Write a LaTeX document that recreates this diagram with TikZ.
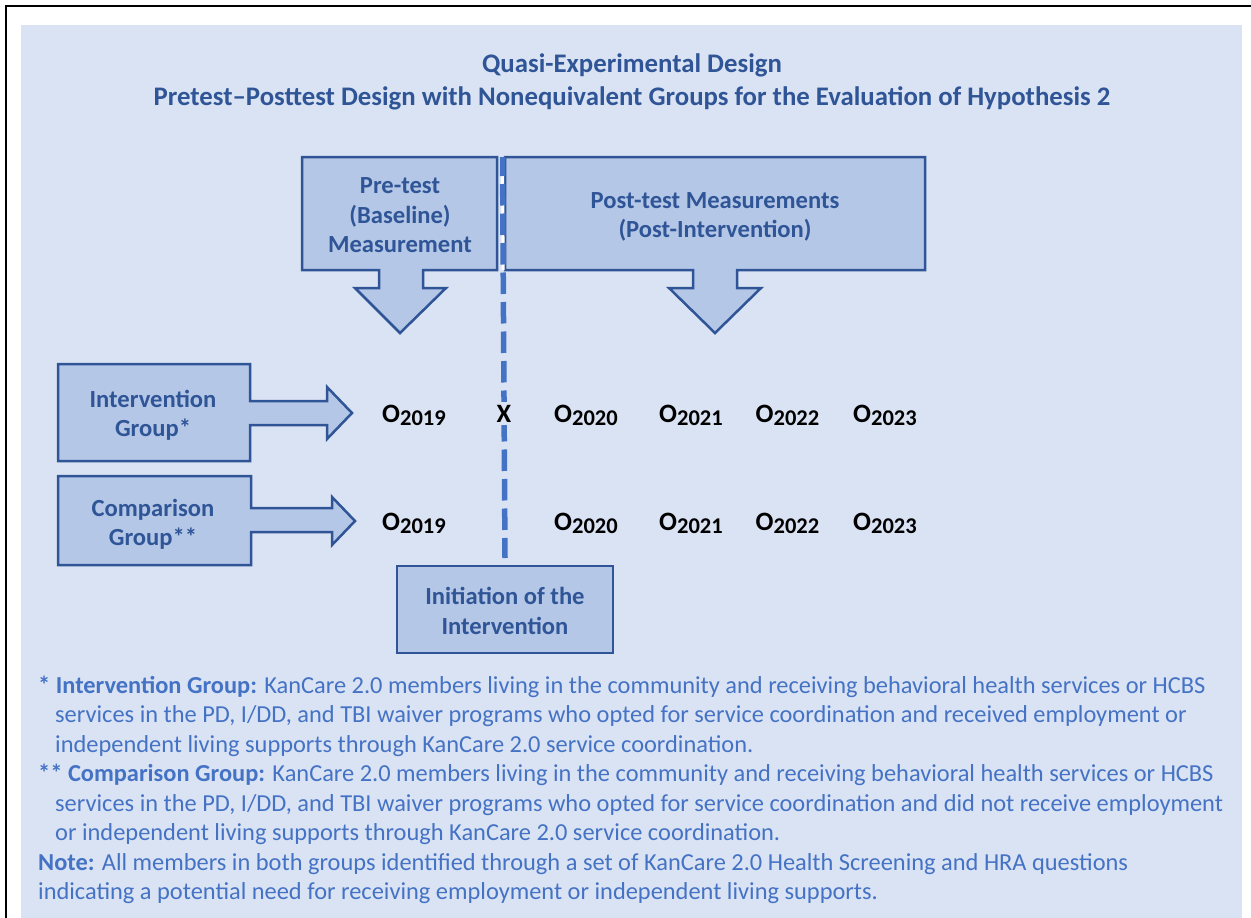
\documentclass[tikz,border=0pt]{standalone}
\usepackage{fontspec}
\setmainfont{Carlito}
\usetikzlibrary{calc}
\definecolor{panel}{HTML}{DAE3F3}
\definecolor{boxfill}{HTML}{B4C7E7}
\definecolor{border}{HTML}{2F5597}
\definecolor{dashcol}{HTML}{4472C4}
\definecolor{notecol}{HTML}{4472C4}
\tikzset{
  shapebox/.style={fill=boxfill, draw=border, line width=2.5pt, line join=miter},
  boxtxt/.style={text=border, font=\fontsize{24.6}{29.5}\selectfont\bfseries, align=center, inner sep=0pt},
  titletxt/.style={text=border, font=\fontsize{26.8}{29}\selectfont\bfseries, anchor=base, inner sep=0pt},
  obs/.style={text=black, inner sep=1pt, anchor=base},
  notetxt/.style={text=notecol, font=\fontsize{24.4}{28}\selectfont, anchor=base west, inner sep=0pt},
  dashline/.style={draw=dashcol, line width=5.5pt, dash pattern=on 21.5pt off 8pt, dash phase=2.5pt},
}
\newcommand{\obsO}[1]{{\fontsize{26.5}{30}\selectfont\bfseries O\raisebox{-3pt}{\fontsize{22.5}{25}\selectfont\bfseries #1}}}
\begin{document}
\begin{tikzpicture}[x=1pt,y=-1pt]
\useasboundingbox (0,0) rectangle (1251,918);
\fill[white] (0,0) rectangle (1251,918);
\draw[black, line width=2pt] (6,918) -- (6,6) -- (1251,6);
\fill[panel] (21,25) rectangle (1242,918);

% titles
\node[titletxt] (t1) at (632,72) {Quasi-Experimental Design};
\node[titletxt] (t2) at (632,105) {Pretest--Posttest Design with Nonequivalent Groups for the Evaluation of Hypothesis 2};

% callouts
\draw[shapebox] (302,157) -- (497,157) -- (497,270) -- (423,270) -- (423,288) -- (446,288) -- (400,333) -- (355,288) -- (379,288) -- (379,270) -- (302,270) -- cycle;
\draw[shapebox] (505,157) -- (925,157) -- (925,270) -- (737,270) -- (737,288) -- (761,288) -- (715,333) -- (669,288) -- (693,288) -- (693,270) -- (505,270) -- cycle;
\node[boxtxt] (pre) at (400,215.5) {Pre-test\\(Baseline)\\Measurement};
\node[boxtxt] (post) at (715,217) {Post-test Measurements\\(Post-Intervention)};

\draw[shapebox] (58,364) -- (250,364) -- (250,401) -- (327,401) -- (327,387) -- (352,413) -- (327,439) -- (327,425) -- (250,425) -- (250,461) -- (58,461) -- cycle;
\node[boxtxt] (ig) at (153,415.5) {Intervention\\Group*};
\draw[shapebox] (58,476) -- (251,476) -- (251,508) -- (332,508) -- (332,497) -- (355,521) -- (332,545) -- (332,532) -- (251,532) -- (251,565) -- (58,565) -- cycle;
\node[boxtxt] (cg) at (153,524.5) {Comparison\\Group**};

\node[shapebox, boxtxt, minimum width=216pt, minimum height=87pt] (init) at (505,609.5) {};
\node[boxtxt] (initt) at (505,611) {Initiation of the\\Intervention};

% dashed line
\coordinate (dtop) at (502.5,157);
\coordinate (dbot) at (505,558);
\draw[white, line width=3pt] (dtop) -- ($(dtop)!0.282!(dbot)$);
\draw[dashline] (dtop) -- (dbot);

% observations
\node[obs, fill=panel, inner sep=3pt] (x) at (504,422) {\fontsize{26.5}{30}\selectfont\bfseries X};
\foreach \yy/\r in {422/a,530/b}{
  \node[obs] (o19\r) at (414,\yy) {\obsO{2019}};
  \node[obs] (o20\r) at (586,\yy) {\obsO{2020}};
  \node[obs] (o21\r) at (691,\yy) {\obsO{2021}};
  \node[obs] (o22\r) at (787.5,\yy) {\obsO{2022}};
  \node[obs] (o23\r) at (885,\yy) {\obsO{2023}};
}

% notes
\node[notetxt] (n1) at (38,693) {\textbf{* Intervention Group:} KanCare 2.0 members living in the community and receiving behavioral health services or HCBS};
\node[notetxt] (n2) at (55,722.5) {services in the PD, I/DD, and TBI waiver programs who opted for service coordination and received employment or};
\node[notetxt] (n3) at (55,752) {independent living supports through KanCare 2.0 service coordination.};
\node[notetxt] (n4) at (38,781.5) {\textbf{** Comparison Group:} KanCare 2.0 members living in the community and receiving behavioral health services or HCBS};
\node[notetxt] (n5) at (55,811) {services in the PD, I/DD, and TBI waiver programs who opted for service coordination and did not receive employment};
\node[notetxt] (n6) at (55,840.5) {or independent living supports through KanCare 2.0 service coordination.};
\node[notetxt] (n7) at (38,870) {\textbf{Note:} All members in both groups identified through a set of KanCare 2.0 Health Screening and HRA questions};
\node[notetxt] (n8) at (38,899.5) {indicating a potential need for receiving employment or independent living supports.};
\end{tikzpicture}
\end{document}
